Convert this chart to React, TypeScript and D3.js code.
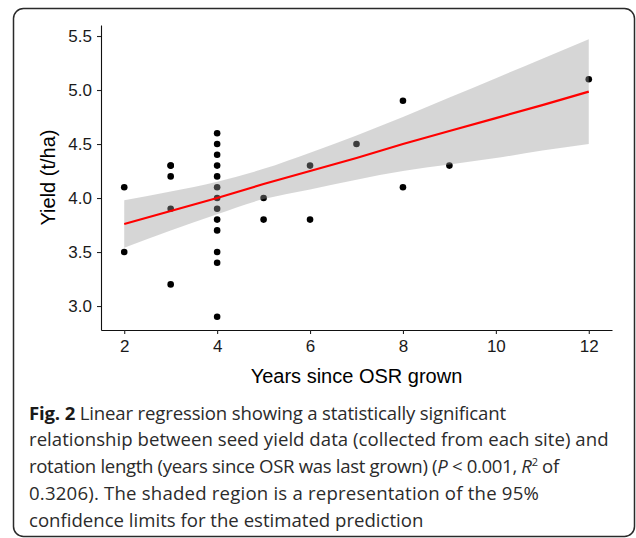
import * as d3 from 'd3';
import { useEffect, useRef } from 'react';

// observed sites: years since OSR was grown vs seed yield (t/ha)
const years = [2, 2, 3, 3, 3, 3, 3, 4, 4, 4, 4, 4, 4, 4, 4, 4, 4, 4, 4, 4, 5, 5, 6, 6, 7, 8, 8, 9, 12];
const yields = [4.1, 3.5, 4.3, 4.3, 4.2, 3.9, 3.2, 4.6, 4.5, 4.4, 4.3, 4.2, 4.1, 4.0, 3.9, 3.8, 3.7, 3.5, 3.4, 2.9, 4.0, 3.8, 4.3, 3.8, 4.5, 4.9, 4.1, 4.3, 5.1];

// fitted line and 95% band
const fitX = [2, 3, 4, 5, 6, 7, 8, 9, 10, 11, 12];
const fitY = [3.76, 3.88, 4.0, 4.13, 4.25, 4.37, 4.5, 4.62, 4.74, 4.86, 4.985];
const fitLower = [3.54, 3.7, 3.85, 3.99, 4.08, 4.17, 4.25, 4.31, 4.37, 4.44, 4.5];
const fitUpper = [3.98, 4.06, 4.15, 4.27, 4.42, 4.58, 4.75, 4.93, 5.11, 5.29, 5.47];

const xTicks = [2, 4, 6, 8, 10, 12];
const yTicks = [3.0, 3.5, 4.0, 4.5, 5.0, 5.5];

const tickFont = '"Liberation Sans", Arial, sans-serif';
const captionFont = '"Open Sans", "Noto Sans", sans-serif';

export default function App() {
  const ref = useRef<SVGSVGElement | null>(null);

  useEffect(() => {
    if (!ref.current) return;
    const svg = d3.select(ref.current);
    svg.selectAll('*').remove();

    const x = d3.scaleLinear().domain([1.5, 12.5]).range([101, 612]);
    const y = d3.scaleLinear().domain([2.778, 5.602]).range([330, 25]);

    // frame
    svg
      .append('rect')
      .attr('x', 13.5)
      .attr('y', 8.5)
      .attr('width', 621)
      .attr('height', 528)
      .attr('rx', 10)
      .attr('fill', 'none')
      .attr('stroke', '#2a2a2a')
      .attr('stroke-width', 1.5);

    // points
    svg
      .append('g')
      .selectAll('circle')
      .data(years.map((yr, i) => [yr, yields[i]]))
      .join('circle')
      .attr('cx', (d) => x(d[0]))
      .attr('cy', (d) => y(d[1]))
      .attr('r', 3.3)
      .attr('fill', '#000');

    const band = fitX.map((v, i) => ({ x: v, lo: fitLower[i], hi: fitUpper[i], fit: fitY[i] }));

    // confidence ribbon (drawn over the points, as geom_smooth does)
    svg
      .append('path')
      .datum(band)
      .attr(
        'd',
        d3
          .area<{ x: number; lo: number; hi: number }>()
          .x((d) => x(d.x))
          .y0((d) => y(d.lo))
          .y1((d) => y(d.hi))
          .curve(d3.curveMonotoneX)
      )
      .attr('fill', '#999999')
      .attr('fill-opacity', 0.4);

    // regression line
    svg
      .append('path')
      .datum(band)
      .attr(
        'd',
        d3
          .line<{ x: number; fit: number }>()
          .x((d) => x(d.x))
          .y((d) => y(d.fit))
      )
      .attr('fill', 'none')
      .attr('stroke', '#ff0000')
      .attr('stroke-width', 2.2);

    // axes
    const gx = svg
      .append('g')
      .attr('transform', 'translate(0,330)')
      .call(d3.axisBottom(x).tickValues(xTicks).tickSize(4).tickSizeOuter(0).tickPadding(6));
    const gy = svg
      .append('g')
      .attr('transform', 'translate(101,0)')
      .call(
        d3
          .axisLeft(y)
          .tickValues(yTicks)
          .tickFormat(d3.format('.1f'))
          .tickSize(4)
          .tickSizeOuter(0)
          .tickPadding(5)
      );
    [gx, gy].forEach((g) => {
      g.selectAll('path').attr('stroke', '#111').attr('stroke-width', 1.1);
      g.selectAll('line').attr('stroke', '#222').attr('stroke-width', 1.1);
      g.selectAll('text').attr('font-family', tickFont).attr('font-size', 17).attr('fill', '#1a1a1a');
    });

    // axis titles
    svg
      .append('text')
      .attr('x', 356.5)
      .attr('y', 382.5)
      .attr('text-anchor', 'middle')
      .attr('font-family', tickFont)
      .attr('font-size', 20)
      .attr('fill', '#000')
      .text('Years since OSR grown');
    svg
      .append('text')
      .attr('transform', 'translate(55,177.5) rotate(-90)')
      .attr('text-anchor', 'middle')
      .attr('font-family', tickFont)
      .attr('font-size', 20)
      .attr('fill', '#000')
      .text('Yield (t/ha)');

    // caption (letter spacing per line, to fit the figure's line widths)
    const cap = svg
      .append('g')
      .attr('font-family', captionFont)
      .attr('font-size', 18.6)
      .attr('fill', '#2b2b2b');
    const line = (yPos: number, ls: number) =>
      cap.append('text').attr('x', 29).attr('y', yPos).style('letter-spacing', `${ls}px`);
    const l1 = line(419.5, -0.17);
    l1.append('tspan').attr('font-weight', 'bold').attr('fill', '#1a1a1a').text('Fig. 2');
    l1.append('tspan').text(' Linear regression showing a statistically significant');
    line(446, 0.03).text('relationship between seed yield data (collected from each site) and');
    const l3 = line(473, -0.34);
    l3.append('tspan').text('rotation length (years since OSR was last grown) (');
    l3.append('tspan').attr('font-style', 'italic').text('P');
    l3.append('tspan').text(' < 0.001, ');
    l3.append('tspan').attr('font-style', 'italic').text('R');
    l3.append('tspan').attr('font-size', 11).attr('dy', -7).text('2');
    l3.append('tspan').attr('dy', 7).text(' of');
    line(500, 0.2).text('0.3206). The shaded region is a representation of the 95%');
    line(526.5, 0).text('confidence limits for the estimated prediction');
  }, []);

  return (
    <svg
      ref={ref}
      width={636}
      height={538}
      style={{ position: 'absolute', left: 0, top: 0, background: '#fff' }}
    />
  );
}
